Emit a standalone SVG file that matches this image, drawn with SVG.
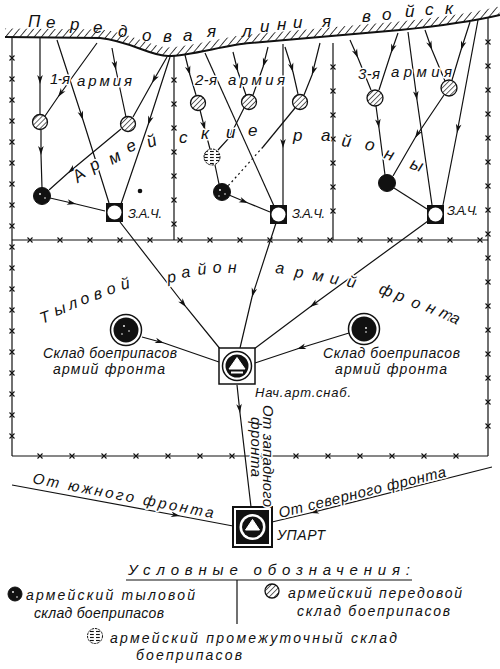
<svg xmlns="http://www.w3.org/2000/svg" width="500" height="669" viewBox="0 0 500 669">
<style>
text{font-family:"Liberation Sans","DejaVu Sans",sans-serif;font-style:italic;fill:#111}
.ln{fill:none;stroke:#111;stroke-width:1.2}
.ar{marker-mid:url(#arr)}
.bd{fill:none;stroke:#111;stroke-width:1.2;marker-mid:url(#xm)}
.halo{stroke:#fff;stroke-width:3;paint-order:stroke;stroke-linejoin:round}
.hc{fill:url(#hp);stroke:#111;stroke-width:1.3}
.bc{fill:#111;stroke:#111}
.ic{fill:url(#ip);stroke:#111;stroke-width:1;stroke-dasharray:2.5 1}
.spk{fill:#fff}
</style>
<defs>
<marker id="arr" markerUnits="userSpaceOnUse" markerWidth="12" markerHeight="8" refX="0" refY="0" viewBox="-10 -4 12 8" orient="auto" overflow="visible">
<path d="M0,0 L-9,-2.8 L-6.5,0 L-9,2.8 Z" fill="#111"/>
</marker>
<marker id="xm" markerUnits="userSpaceOnUse" markerWidth="6" markerHeight="6" viewBox="-3 -3 6 6" refX="0" refY="0" overflow="visible">
<path d="M-2.5,-2.5 L2.5,2.5 M-2.5,2.5 L2.5,-2.5" stroke="#111" stroke-width="1.1"/>
</marker>
<pattern id="fh" patternUnits="userSpaceOnUse" width="5.5" height="5.5" patternTransform="rotate(40)">
<line x1="0" y1="0" x2="0" y2="5.5" stroke="#111" stroke-width="1.6"/>
</pattern>
<pattern id="hp" patternUnits="userSpaceOnUse" width="3.6" height="3.6" patternTransform="rotate(45)">
<rect width="3.6" height="3.6" fill="#fff"/>
<line x1="0" y1="0" x2="0" y2="3.6" stroke="#111" stroke-width="1.3"/>
</pattern>
<pattern id="ip" patternUnits="userSpaceOnUse" width="6" height="3">
<rect width="6" height="3" fill="#fff"/>
<line x1="0" y1="1.5" x2="3.8" y2="1.5" stroke="#111" stroke-width="1.1"/>
</pattern>
<clipPath id="above">
<path d="M0,37 L5,37 L100,38 C130,41 150,56 168,56 C190,56 225,45 250,43 L400,30 C440,26 470,22 500,15 L500,0 L0,0 Z"/>
</clipPath>
</defs>
<rect width="500" height="669" fill="#fff"/>

<g id="front-line">
<path d="M5,37 L100,38 C130,41 150,56 168,56 C190,56 225,45 250,43 L400,30 C440,26 470,22 500,15" fill="none" stroke="url(#fh)" stroke-width="17" clip-path="url(#above)"/>
<path d="M5,37 L100,38 C130,41 150,56 168,56 C190,56 225,45 250,43 L400,30 C440,26 470,22 500,15" fill="none" stroke="#111" stroke-width="2"/>
<text font-size="17" x="28 46 70 93 118 142 163 183 207 225 242 260 277 293 322 345 362 382 405 425 445" y="27 28 30 33 37 41 42 41 37 37 37 32 30 28 27 27 22 20 17 15 14">Передовая линия войск</text>
</g>

<g id="boundaries">
<polyline class="bd" points="12,37 12,58 12,79 12,100 12,121 12,142 12,163 12,184 12,205 12,226 12,247 12,268 12,289 12,310 12,331 12,352 12,373 12,394 12,415 12,436 12,456"/>
<polyline class="bd" points="174,56 174,80 174,104 174,128 174,152 174,176 174,200 174,224 174,240"/>
<polyline class="bd" points="333,43 333,67 333,91 333,115 333,139 333,163 333,187 333,211 333,240"/>
<polyline class="bd" points="488,18 488,42 488,66 488,90 488,114 488,138 488,162 488,186 488,210 488,234 488,258 488,282 488,306 488,330 488,354 488,378 488,402 488,426 488,456"/>
<polyline class="bd" points="12,240 30,240 60,240 90,240 120,240 150,240 180,240 210,240 240,240 270,240 300,240 330,240 360,240 390,240 420,240 450,240 480,240 488,240"/>
<polyline class="bd" points="12,456 40,456 72,456 104,456 136,456 168,456 200,456 232,456 264,456 296,456 328,456 360,456 392,456 424,456 456,456 488,456"/>
</g>

<g id="connectors">
<!-- army 1 -->
<polyline class="ln ar" points="40,38 40,84 40,114"/>
<polyline class="ln ar" points="97,43 58,97 45,116"/>
<polyline class="ln ar" points="57,40 83,120 109,203"/>
<polyline class="ln ar" points="112,48 116,70 126,117"/>
<polyline class="ln ar" points="167,57 152,83 133,117"/>
<polyline class="ln ar" points="170,57 148,125 121,204"/>
<polyline class="ln ar" points="121,129 68,173 49,190"/>
<polyline class="ln ar" points="41,130 41,155 42,188"/>
<polyline class="ln ar" points="50,198 76,204 105,211"/>
<!-- army 2 -->
<polyline class="ln ar" points="185,55 190,75 196,95"/>
<polyline class="ln ar" points="200,110 205,130 210,149"/>
<polyline class="ln ar" points="244,108 229,138 218,150"/>
<polyline class="ln" points="215,165 219,184"/>
<polyline class="ln ar" points="229,195 248,203 270,212"/>
<polyline class="ln" points="205,53 274,206"/>
<polyline class="ln ar" points="283,44 283,148 283,205"/>
<polyline class="ln ar" points="295,108 263,147"/>
<polyline class="ln" points="263,147 228,186" stroke-dasharray="2 3"/>
<polyline class="ln ar" points="233,52 238,72 246,95"/>
<polyline class="ln ar" points="268,47 263,67 253,95"/>
<polyline class="ln ar" points="285,47 293,72 298,94"/>
<polyline class="ln ar" points="320,43 312,75 304,95"/>
<!-- army 3 -->
<polyline class="ln ar" points="350,40 358,58 371,90"/>
<polyline class="ln ar" points="398,33 391,53 379,90"/>
<polyline class="ln ar" points="376,106 379,128 385,175"/>
<polyline class="ln ar" points="444,95 415,138 393,176"/>
<polyline class="ln ar" points="408,32 417,100 432,205"/>
<polyline class="ln ar" points="425,30 432,50 445,81"/>
<polyline class="ln ar" points="470,22 461,50 452,80"/>
<polyline class="ln ar" points="478,20 457,133 443,205"/>
<polyline class="ln" points="394,188 427,209"/>
<!-- rear -->
<polyline class="ln ar" points="120,222 186,307 221,350"/>
<polyline class="ln ar" points="276,223 252,297 240,348"/>
<polyline class="ln ar" points="428,221 310,307 254,349"/>
<polyline class="ln ar" points="142,337 164,343 219,362"/>
<polyline class="ln ar" points="349,333 297,349 255,363"/>
<polyline class="ln ar" points="237,385 240,413 251,507"/>
<polyline class="ln ar" points="12,485 180,516 233,526"/>
<polyline class="ln ar" points="492,467 310,513 272,522"/>
</g>

<g id="region-labels">
<text font-size="17" class="halo" x="78 93 112 129 149 179 201 226 248 270 293 321 341 364 383 409" y="183 172 165 153 148 143 139 138 136 140 141 141 146 149 158 168" rotate="-40 -30 -28 -26 -20 0 0 0 0 0 0 0 8 15 20 20">Армейские районы</text>
<text font-size="16" class="halo" x="42 56 70 82 95 108 122 150 168 182 198 213 228 260 275 294 312 329 346 365 378 394 410 425 438 449" y="324 316 310 305 300 295 290 290 283 278 275 273 273 272 273 277 280 283 286 286 293 299 306 311 316 321" rotate="-20 -20 -18 -18 -16 -15 -14 0 -10 -8 -6 -4 -2 0 5 8 10 12 14 0 20 22 24 24 26 26">Тыловой район армий фронта</text>
</g>

<g id="army1">
<circle class="hc" cx="40" cy="122" r="7.5"/>
<circle class="hc" cx="128" cy="124" r="7.5"/>
<g id="a1-rear"><circle class="bc" cx="42" cy="196" r="8.5"/><circle class="spk" cx="40" cy="194" r="0.9"/><circle class="spk" cx="45" cy="198" r="0.8"/></g>
<g id="zac1"><rect x="106" y="203" width="17" height="19" fill="#111"/><circle cx="114.5" cy="212.5" r="7" fill="#fff"/></g>
<circle cx="140" cy="191" r="2.3" fill="#111"/>
<text font-size="15" class="halo" x="50" y="84" textLength="20">1-я</text>
<text font-size="15" class="halo" x="77" y="86" textLength="55">армия</text>
<text font-size="13" x="128" y="218" textLength="34">З.А.Ч.</text>
</g>

<g id="army2">
<circle class="hc" cx="198" cy="103" r="7.5"/>
<circle class="hc" cx="249" cy="102" r="7.5"/>
<circle class="hc" cx="300" cy="102" r="7.5"/>
<circle class="ic" cx="212" cy="157" r="8"/>
<g id="a2-rear"><circle class="bc" cx="222" cy="192" r="8.5"/><circle class="spk" cx="220" cy="190" r="0.9"/><circle class="spk" cx="225" cy="194" r="0.8"/><circle class="spk" cx="219" cy="196" r="0.7"/></g>
<g id="zac2"><rect x="270" y="205" width="17" height="19" fill="#111"/><circle cx="278.5" cy="214.5" r="7" fill="#fff"/></g>
<text font-size="15" class="halo" x="195" y="85" textLength="22">2-я</text>
<text font-size="15" class="halo" x="228" y="85" textLength="57">армия</text>
<text font-size="13" x="292" y="218" textLength="33">З.А.Ч.</text>
</g>

<g id="army3">
<circle class="hc" cx="375" cy="98" r="8"/>
<circle class="hc" cx="449" cy="88" r="8"/>
<circle class="bc" cx="387" cy="183" r="8.5"/>
<g id="zac3"><rect x="427" y="205" width="17" height="19" fill="#111"/><circle cx="435.5" cy="214.5" r="7" fill="#fff"/></g>
<text font-size="15" class="halo" x="358" y="79" textLength="22">3-я</text>
<text font-size="15" class="halo" x="391" y="77" textLength="61">армия</text>
<text font-size="13" x="447" y="215" textLength="31">З.А.Ч.</text>
</g>

<g id="depot-left">
<circle cx="126" cy="330" r="15.5" fill="#fff" stroke="#111" stroke-width="1.5"/>
<circle cx="126" cy="330" r="12.5" fill="#111"/>
<circle class="spk" cx="124" cy="326" r="0.9"/><circle class="spk" cx="129" cy="331" r="0.8"/><circle class="spk" cx="122" cy="334" r="0.8"/>
<text font-size="14" x="43" y="358" textLength="134">Склад боеприпасов</text>
<text font-size="14" x="53" y="374" textLength="112">армий фронта</text>
</g>

<g id="depot-right">
<circle cx="364" cy="329" r="15.5" fill="#fff" stroke="#111" stroke-width="1.5"/>
<circle cx="364" cy="329" r="12.5" fill="#111"/>
<circle class="spk" cx="366" cy="328" r="0.9"/><circle class="spk" cx="366" cy="332" r="0.8"/>
<text font-size="14" x="323" y="358" textLength="137">Склад боеприпасов</text>
<text font-size="14" x="335" y="374" textLength="112">армий фронта</text>
</g>

<g id="nach-art-snab">
<rect x="219" y="348" width="36" height="36" fill="#fff" stroke="#111" stroke-width="1.5"/>
<circle cx="237" cy="366" r="14.5" fill="#fff" stroke="#111" stroke-width="1.5"/>
<circle cx="237" cy="366" r="11.5" fill="#111"/>
<path d="M237,357.5 L245,369 L229,369 Z" fill="#fff" stroke="#fff" stroke-linejoin="round"/>
<rect x="231" y="371.5" width="12" height="2" fill="#fff"/>
<text font-size="13" x="255" y="397" textLength="96">Нач.арт.снаб.</text>
</g>

<g id="upart">
<rect x="233" y="507" width="39" height="40" fill="#fff" stroke="#111" stroke-width="2"/>
<rect x="236" y="510" width="33" height="34" fill="#111"/>
<circle cx="252.5" cy="527" r="13" fill="#fff"/>
<circle cx="252.5" cy="527" r="10.5" fill="#111"/>
<path d="M252.5,519.5 L259.5,530 L245.5,530 Z" fill="#fff" stroke="#fff" stroke-linejoin="round"/>
<text font-size="14" x="277" y="540" textLength="48">УПАРТ</text>
</g>

<g id="front-labels">
<text font-size="15" class="halo" x="32" y="483" transform="rotate(11 32 483)" textLength="184">От южного фронта</text>
<text font-size="15" class="halo" x="280" y="518" transform="rotate(-14 280 518)" textLength="172">От северного фронта</text>
<text font-size="15" class="halo" x="263" y="405" transform="rotate(90 263 405)" textLength="102">От западного</text>
<text font-size="15" class="halo" x="251" y="417" transform="rotate(90 251 417)" textLength="60">фронта</text>
</g>

<g id="legend">
<text font-size="15" x="128" y="575" textLength="282">Условные обозначения:</text>
<line x1="126" y1="580" x2="412" y2="580" stroke="#111" stroke-width="1.2"/>
<line x1="237" y1="580" x2="237" y2="624" stroke="#111" stroke-width="1.2"/>
<g id="leg-rear"><circle class="bc" cx="15" cy="594" r="7"/><circle class="spk" cx="13" cy="592" r="0.9"/><circle class="spk" cx="17" cy="597" r="0.8"/>
<text font-size="14" x="26" y="600" textLength="169">армейский тыловой</text>
<text font-size="14" x="34" y="618" textLength="130">склад боеприпасов</text></g>
<g id="leg-forward"><circle class="hc" cx="272" cy="591" r="7"/>
<text font-size="14" x="288" y="598" textLength="174">армейский передовой</text>
<text font-size="14" x="297" y="616" textLength="153">склад боеприпасов</text></g>
<g id="leg-mid"><circle class="ic" cx="95" cy="636" r="7.5"/>
<text font-size="14" x="110" y="643" textLength="287">армейский промежуточный склад</text>
<text font-size="14" x="136" y="660" textLength="106">боеприпасов</text></g>
</g>
</svg>
